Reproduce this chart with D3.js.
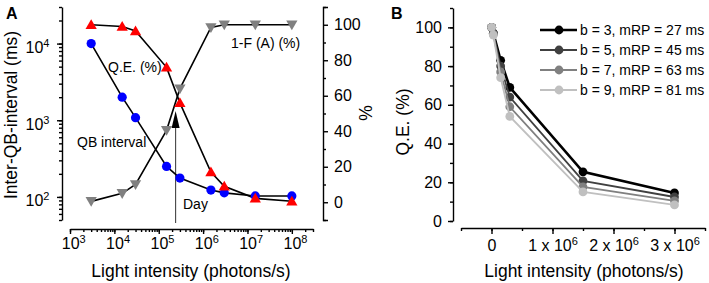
<!DOCTYPE html>
<html>
<head>
<meta charset="utf-8">
<script src="https://cdn.jsdelivr.net/npm/d3@7"></script>
<style>
  body { margin: 0; background: #fff; }
  svg { font-family: "Liberation Sans", Arial, sans-serif; }
  .axis path, .axis line { stroke: #000; stroke-width: 1.4; }
  .axis text { font-size: 16px; fill: #000; }
</style>
</head>
<body>
<svg id="chart" width="709" height="283"></svg>
<script>
// ---- panel A data (log x) ----
const lightA = [3e3, 1.5e4, 3e4, 1.5e5, 3e5, 1.5e6, 3e6, 1.5e7, 1e8];
const qbInterval = [10000, 2000, 1080, 250, 176, 123, 113, 103, 103];   // ms, left axis
const qeA = [100, 99, 96.5, 76, 56, 17, 9, 2.2, 0.6];                  // %, right axis
const oneMinusF = [0.5, 5, 10, 40.5, 64, 98.5, 100, 100, 100];           // %, right axis
const dayLight = 2.4e5;

// ---- panel B data ----
const lightB = [3e3, 3e4, 1.5e5, 3e5, 1.5e6, 3e6];
const seriesB = [
  { name: "b = 3, mRP = 27 ms", values: [100, 97, 83, 69, 25.4, 14.5] },
  { name: "b = 5, mRP = 45 ms", values: [100, 97, 80, 64, 20.7, 12.4] },
  { name: "b = 7, mRP = 63 ms", values: [100, 96.5, 77, 59, 17.6, 10.4] },
  { name: "b = 9, mRP = 81 ms", values: [100, 96, 74, 54, 15, 8.3] }
];
const greysB = ["#000000", "#404040", "#808080", "#c0c0c0"];

const svg = d3.select("#chart");

// ================= panel A =================
let xA = d3.scaleLog().domain([1e3, 3e8]).range([70, 313]);
let yL = d3.scaleLog().domain([50, 30000]).range([220, 7]);
let yR = d3.scaleLinear().domain([-10, 110]).range([220, 7]);

function logMinor(lo, hi) {
  let out = [];
  for (let e = Math.floor(Math.log10(lo)); e <= Math.ceil(Math.log10(hi)); e++) {
    for (let m = 1; m < 10; m++) {
      let v = m * Math.pow(10, e);
      if (v >= lo * 0.999 && v <= hi * 1.001) out.push(v);
    }
  }
  return out;
}
function powLabel(sel) {
  sel.each(function(d) {
    let t = d3.select(this).text("");
    t.append("tspan").text("10");
    t.append("tspan").attr("dy", "-0.55em").style("font-size", "11px").text(Math.round(Math.log10(d)));
  });
}

// x axis A
svg.append("g").attr("class", "axis").attr("transform", "translate(0,229)")
  .call(d3.axisBottom(xA).tickValues(logMinor(1e3, 3e8)).tickSize(3).tickSizeOuter(0).tickFormat(""));
svg.append("g").attr("class", "axis").attr("transform", "translate(0,229)")
  .call(d3.axisBottom(xA).tickValues([1e3, 1e4, 1e5, 1e6, 1e7, 1e8]).tickSize(5).tickSizeOuter(0).tickPadding(4))
  .call(g => g.select(".domain").remove())
  .selectAll(".tick text").call(powLabel).attr("dx", "0.2em");

// left axis A
svg.append("g").attr("class", "axis").attr("transform", "translate(62,0)")
  .call(d3.axisLeft(yL).tickValues(logMinor(50, 30000)).tickSize(3).tickSizeOuter(0).tickFormat(""));
svg.append("g").attr("class", "axis").attr("transform", "translate(62,0)")
  .call(d3.axisLeft(yL).tickValues([100, 1000, 10000]).tickSize(5).tickSizeOuter(0).tickPadding(6))
  .call(g => g.select(".domain").remove())
  .selectAll(".tick text").call(powLabel).attr("dx", "-0.1em").attr("dy", "0.55em");

// right axis A
svg.append("g").attr("class", "axis").attr("transform", "translate(323,0)")
  .call(d3.axisRight(yR).tickValues(d3.range(-10, 111, 20)).tickSize(3).tickSizeOuter(5).tickFormat(""));
svg.append("g").attr("class", "axis").attr("transform", "translate(323,0)")
  .call(d3.axisRight(yR).tickValues(d3.range(0, 101, 20)).tickSize(5).tickPadding(6))
  .call(g => g.select(".domain").remove());

// axis titles A
svg.append("text").attr("transform", "translate(17,115) rotate(-90)")
  .attr("text-anchor", "middle").style("font-size", "17.5px").text("Inter-QB-interval (ms)");
svg.append("text").attr("transform", "translate(372,113) rotate(-90)")
  .attr("text-anchor", "middle").style("font-size", "17.5px").text("%");
svg.append("text").attr("x", 191).attr("y", 277)
  .attr("text-anchor", "middle").style("font-size", "17.5px").text("Light intensity (photons/s)");
svg.append("text").attr("x", 6).attr("y", 19).style("font-size", "16px").style("font-weight", "bold").text("A");

// Day marker
let dx = xA(dayLight);
svg.append("line").attr("x1", dx).attr("x2", dx)
  .attr("y1", 223).attr("y2", 126).attr("stroke", "#444").attr("stroke-width", 1.1);
svg.append("path")
  .attr("d", `M${dx},${111}L${dx + 4},${128}L${dx - 4},${128}Z`)
  .attr("fill", "#000");
svg.append("text").attr("x", 183).attr("y", 209).style("font-size", "14px").text("Day");

// series lines A
let lineL = d3.line().x((d, i) => xA(lightA[i])).y(d => yL(d));
let lineR = d3.line().x((d, i) => xA(lightA[i])).y(d => yR(d));
svg.append("path").attr("d", lineR(oneMinusF)).attr("fill", "none").attr("stroke", "#000").attr("stroke-width", 1.6);
svg.append("path").attr("d", lineR(qeA)).attr("fill", "none").attr("stroke", "#000").attr("stroke-width", 1.6);
svg.append("path").attr("d", lineL(qbInterval)).attr("fill", "none").attr("stroke", "#000").attr("stroke-width", 1.6);

// markers A
svg.selectAll(".gray").data(oneMinusF).enter().append("path")
  .attr("d", d3.symbol(d3.symbolTriangle, 55)())
  .attr("transform", (d, i) => `translate(${xA(lightA[i])},${yR(d) - 1}) rotate(180)`)
  .attr("fill", "#808080");
svg.selectAll(".qb").data(qbInterval).enter().append("circle")
  .attr("cx", (d, i) => xA(lightA[i])).attr("cy", d => yL(d)).attr("r", 4.6)
  .attr("fill", "#0000ff");
svg.selectAll(".qe").data(qeA).enter().append("path")
  .attr("d", d3.symbol(d3.symbolTriangle, 55)())
  .attr("transform", (d, i) => `translate(${xA(lightA[i])},${yR(d) + 1})`)
  .attr("fill", "#ff0000");

// annotations A
svg.append("text").attr("x", 108).attr("y", 72).style("font-size", "14px").text("Q.E. (%)");
svg.append("text").attr("x", 77).attr("y", 147).style("font-size", "14px").text("QB interval");
svg.append("text").attr("x", 231).attr("y", 48).style("font-size", "14px").text("1-F (A) (%)");

// ================= panel B =================
let xB = d3.scaleLinear().domain([-0.5e6, 3.5e6]).range([461, 705]);
let yB = d3.scaleLinear().domain([0, 110]).range([221, 8]);

svg.append("g").attr("class", "axis").attr("transform", "translate(0,228)")
  .call(d3.axisBottom(xB).tickValues(d3.range(-0.5e6, 3.51e6, 0.5e6)).tickSize(3).tickSizeOuter(0).tickFormat(""));
svg.append("g").attr("class", "axis").attr("transform", "translate(0,228)")
  .call(d3.axisBottom(xB).tickValues([0, 1e6, 2e6, 3e6]).tickSize(6).tickSizeOuter(0).tickPadding(6))
  .call(g => g.select(".domain").remove())
  .selectAll(".tick text").each(function(d) {
    let t = d3.select(this).text("");
    if (d === 0) { t.text("0"); return; }
    t.append("tspan").text((d / 1e6) + " x 10");
    t.append("tspan").attr("dy", "-0.55em").style("font-size", "11px").text("6");
  });

svg.append("g").attr("class", "axis").attr("transform", "translate(453,0)")
  .call(d3.axisLeft(yB).tickValues(d3.range(0, 111, 10)).tickSize(3).tickSizeOuter(0).tickFormat(""));
svg.append("g").attr("class", "axis").attr("transform", "translate(453,0)")
  .call(d3.axisLeft(yB).tickValues(d3.range(0, 101, 20)).tickSize(5).tickPadding(6))
  .call(g => g.select(".domain").remove());

svg.append("text").attr("transform", "translate(409,122) rotate(-90)")
  .attr("text-anchor", "middle").style("font-size", "17.5px").text("Q.E. (%)");
svg.append("text").attr("x", 584).attr("y", 277)
  .attr("text-anchor", "middle").style("font-size", "17.5px").text("Light intensity (photons/s)");
svg.append("text").attr("x", 391).attr("y", 19).style("font-size", "16px").style("font-weight", "bold").text("B");

let lineB = d3.line().x((d, i) => xB(lightB[i])).y(d => yB(d));
seriesB.forEach((s, k) => {
  svg.append("path").attr("d", lineB(s.values)).attr("fill", "none")
    .attr("stroke", greysB[k]).attr("stroke-width", k === 0 ? 2.6 : 1.8);
  svg.selectAll(".pt" + k).data(s.values).enter().append("circle")
    .attr("cx", (d, i) => xB(lightB[i])).attr("cy", d => yB(d)).attr("r", 4.4)
    .attr("fill", greysB[k]);
});

// legend B
seriesB.forEach((s, k) => {
  let ly = 30 + k * 20;
  svg.append("line").attr("x1", 540).attr("x2", 577).attr("y1", ly).attr("y2", ly)
    .attr("stroke", greysB[k]).attr("stroke-width", k === 0 ? 2.6 : 1.8);
  svg.append("circle").attr("cx", 559).attr("cy", ly).attr("r", 4.4).attr("fill", greysB[k]);
  svg.append("text").attr("x", 580).attr("y", ly + 5).style("font-size", "14px").text(s.name);
});
</script>
</body>
</html>
